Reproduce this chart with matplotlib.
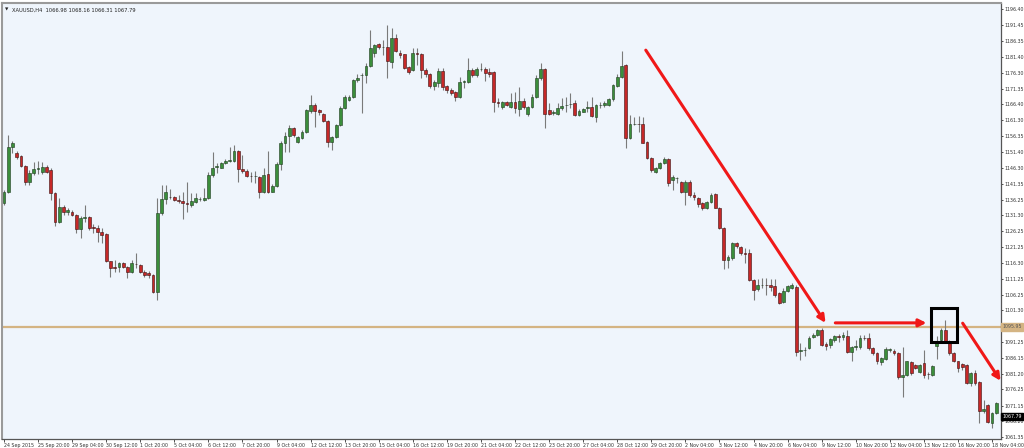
import matplotlib
matplotlib.use("Agg")
import matplotlib.pyplot as plt
from matplotlib.patches import Rectangle
from matplotlib import font_manager
import numpy as np

# ---- data (H4 candles, XAUUSD) ----
opens = [1135.1,1138.8,1153.0,1151.1,1150.0,1147.0,1141.9,1144.6,1145.8,1145.1,
         1146.7,1145.6,1138.3,1129.3,1134.0,1132.3,1132.5,1131.4,1126.9,1130.6,
         1130.8,1127.7,1127.2,1126.1,1125.3,1116.7,1114.9,1114.9,1116.1,1114.9,
         1113.3,1116.0,1115.6,1113.5,1113.0,1112.5,1107.2,1131.9,1136.4,1137.2,
         1137.2,1136.0,1135.9,1135.1,1134.6,1135.6,1136.4,1136.2,1136.7,1144.0,
         1146.6,1146.4,1147.7,1148.6,1148.6,1151.6,1145.9,1145.3,1143.8,1143.7,
         1143.4,1138.8,1144.2,1138.8,1140.7,1147.4,1154.1,1156.4,1158.8,1154.6,
         1155.8,1157.7,1164.3,1166.2,1164.5,1163.2,1161.1,1154.6,1156.2,1159.8,
         1165.3,1167.7,1168.8,1174.1,1175.6,1175.6,1178.5,1182.5,1185.3,1184.4,
         1184.4,1179.9,1187.4,1182.7,1182.2,1178.3,1177.2,1182.5,1182.3,1177.2,
         1175.9,1172.3,1173.0,1176.9,1172.3,1170.9,1170.2,1168.8,1173.5,1173.5,
         1177.2,1175.6,1177.5,1177.5,1176.5,1176.5,1167.0,1165.4,1167.0,1165.4,
         1167.0,1164.9,1167.4,1163.2,1165.6,1168.8,1174.8,1177.4,1164.6,1163.7,
         1163.2,1165.1,1166.1,1166.4,1166.7,1163.0,1164.1,1165.3,1165.6,1162.5,
         1166.2,1166.2,1166.2,1168.0,1172.3,1175.1,1178.8,1155.8,1160.1,1160.2,
         1160.1,1154.6,1149.5,1145.1,1146.2,1147.7,1149.0,1142.5,1143.0,1141.9,
         1138.8,1141.9,1137.7,1136.7,1135.1,1133.5,1135.4,1138.0,1133.7,1127.2,
         1117.2,1117.7,1122.5,1121.4,1119.3,1119.3,1110.9,1107.9,1109.3,1109.4,
         1109.3,1108.8,1106.7,1104.0,1107.5,1108.2,1108.6,1088.5,1088.7,1089.3,
         1092.7,1093.5,1094.9,1090.5,1090.3,1091.9,1093.0,1092.8,1093.3,1088.2,
         1089.8,1089.6,1092.6,1092.4,1089.3,1087.7,1084.8,1085.8,1088.8,1088.5,
         1087.7,1080.1,1080.9,1084.8,1084.0,1081.9,1084.5,1081.1,1080.9,1090.0,
         1091.9,1094.9,1091.6,1087.7,1085.1,1084.3,1084.0,1078.2,1081.6,1078.7,
         1069.3,1071.4,1065.8,1068.7]
highs = [1139.3,1156.7,1154.8,1151.6,1150.3,1147.3,1145.6,1148.3,1148.6,1148.3,
         1147.2,1146.4,1138.6,1136.9,1134.6,1133.5,1133.0,1131.8,1131.0,1134.6,
         1131.2,1128.5,1128.2,1127.2,1125.6,1117.0,1117.2,1116.5,1116.4,1115.2,
         1117.2,1119.3,1116.0,1114.0,1113.7,1112.8,1136.9,1140.9,1140.9,1139.6,
         1137.5,1137.7,1138.8,1141.9,1138.3,1138.3,1137.2,1139.8,1145.1,1151.4,
         1147.7,1148.3,1149.0,1153.0,1153.5,1152.0,1150.4,1145.9,1145.1,1145.3,
         1143.8,1146.4,1151.6,1141.1,1148.3,1154.8,1157.7,1159.8,1159.3,1156.4,
         1158.3,1165.0,1169.3,1166.7,1164.9,1163.6,1161.4,1156.5,1160.2,1165.7,
         1169.2,1169.2,1174.5,1175.9,1176.2,1179.3,1189.9,1185.5,1185.7,1186.7,
         1191.4,1190.4,1188.5,1183.5,1182.4,1178.6,1184.1,1184.1,1182.7,1178.0,
         1176.2,1174.1,1177.7,1177.7,1172.6,1171.6,1170.5,1175.1,1174.1,1180.9,
         1178.0,1178.3,1179.3,1178.3,1177.7,1176.8,1168.3,1167.3,1167.3,1169.9,
         1170.2,1172.0,1168.3,1166.0,1169.5,1175.6,1179.3,1177.8,1166.7,1164.6,
         1166.7,1168.3,1168.8,1169.9,1167.7,1164.8,1165.1,1167.4,1168.8,1166.6,
         1167.0,1167.4,1168.3,1172.8,1175.9,1183.2,1179.2,1163.0,1162.5,1162.8,
         1162.5,1154.9,1149.8,1146.7,1148.2,1149.8,1149.3,1144.0,1143.5,1142.3,
         1142.5,1142.5,1138.8,1137.2,1135.4,1135.8,1138.3,1138.5,1134.0,1127.5,
         1118.8,1123.0,1123.0,1121.7,1120.9,1120.6,1111.1,1111.1,1111.4,1111.4,
         1111.1,1111.1,1107.0,1108.2,1109.3,1109.8,1109.3,1090.9,1089.8,1093.0,
         1094.0,1095.3,1095.6,1091.4,1092.5,1093.5,1093.7,1094.5,1095.1,1090.1,
         1091.9,1093.5,1093.5,1094.0,1089.6,1088.0,1086.5,1089.6,1089.3,1089.0,
         1088.0,1089.6,1085.4,1085.1,1084.3,1084.3,1088.8,1081.9,1084.0,1093.0,
         1095.6,1098.2,1092.0,1088.0,1085.4,1084.5,1084.3,1081.9,1082.4,1079.0,
         1073.0,1071.7,1069.0,1072.4]
lows = [1134.6,1138.3,1150.9,1149.1,1146.6,1140.9,1140.9,1144.0,1144.3,1144.3,
        1144.6,1136.1,1127.9,1128.9,1131.4,1131.4,1131.0,1125.6,1124.2,1129.3,
        1126.7,1125.6,1123.0,1122.5,1116.4,1111.9,1113.5,1113.5,1114.5,1111.4,
        1113.0,1114.6,1113.0,1111.7,1111.4,1106.8,1104.6,1131.4,1134.8,1136.5,
        1135.8,1135.1,1130.1,1132.5,1134.0,1135.1,1135.8,1135.8,1136.4,1143.5,
        1144.6,1146.2,1147.4,1148.3,1148.3,1141.9,1144.6,1143.5,1141.9,1141.4,
        1136.9,1138.3,1138.5,1138.6,1140.4,1145.6,1151.4,1151.4,1156.2,1154.1,
        1155.4,1157.2,1163.5,1159.3,1163.0,1160.8,1153.0,1152.0,1155.8,1159.4,
        1165.0,1167.4,1168.4,1173.5,1163.5,1173.0,1178.3,1181.4,1184.0,1182.0,
        1174.6,1177.7,1183.0,1180.9,1177.6,1175.9,1176.8,1178.8,1174.6,1175.1,
        1171.6,1170.9,1172.0,1170.9,1169.9,1169.3,1167.4,1168.4,1171.6,1173.0,
        1175.1,1175.1,1176.9,1173.7,1175.1,1163.9,1165.6,1164.9,1165.8,1165.1,
        1163.5,1162.8,1164.9,1162.8,1165.1,1168.3,1174.1,1159.0,1163.0,1163.0,
        1163.0,1164.6,1164.1,1165.1,1162.8,1162.7,1163.8,1164.1,1162.5,1160.9,
        1165.3,1165.6,1165.9,1167.4,1172.0,1174.6,1152.5,1155.4,1159.8,1157.5,
        1154.0,1149.2,1145.1,1144.6,1145.9,1147.4,1140.7,1139.3,1141.4,1138.4,
        1134.6,1137.2,1136.1,1134.0,1133.0,1133.2,1135.1,1133.5,1126.9,1114.2,
        1114.6,1117.2,1120.9,1118.8,1116.3,1110.6,1104.6,1107.5,1108.2,1106.1,
        1107.5,1105.6,1103.2,1103.7,1107.2,1107.9,1086.7,1085.6,1086.9,1089.0,
        1092.4,1093.2,1090.0,1088.7,1089.3,1091.4,1091.4,1091.9,1087.7,1085.1,
        1088.7,1089.0,1091.9,1088.7,1087.2,1084.3,1084.0,1085.5,1088.2,1087.2,
        1079.5,1074.0,1080.6,1080.9,1082.6,1081.6,1079.8,1079.5,1080.6,1086.0,
        1091.6,1090.9,1087.2,1084.8,1081.9,1082.4,1077.9,1077.2,1077.7,1065.6,
        1068.9,1065.6,1064.0,1068.4]
closes = [1138.8,1153.0,1154.3,1149.8,1147.0,1141.9,1144.6,1145.8,1146.2,1146.7,
          1145.1,1138.3,1129.3,1134.0,1132.5,1132.9,1131.4,1126.9,1130.6,1130.8,
          1127.2,1127.2,1125.9,1125.1,1116.7,1114.8,1114.8,1116.1,1114.9,1113.3,
          1116.1,1115.8,1113.5,1112.5,1112.5,1107.2,1131.9,1136.4,1138.8,1137.0,
          1136.1,1135.9,1135.1,1134.8,1135.8,1136.9,1136.5,1136.9,1144.0,1146.4,
          1146.8,1147.7,1148.6,1148.7,1151.6,1145.9,1145.3,1143.8,1143.7,1143.8,
          1138.8,1144.0,1138.8,1140.7,1147.4,1154.1,1156.4,1158.8,1156.7,1155.9,
          1157.7,1164.6,1166.2,1164.3,1163.8,1161.1,1154.6,1156.2,1159.8,1165.3,
          1168.8,1168.8,1174.1,1174.8,1175.8,1178.5,1184.3,1185.1,1184.4,1184.5,
          1180.2,1187.2,1183.2,1182.0,1178.0,1176.7,1182.7,1182.4,1177.2,1175.9,
          1172.3,1173.3,1176.9,1172.0,1170.9,1169.9,1168.8,1173.5,1173.6,1177.2,
          1175.6,1177.5,1177.6,1176.2,1176.1,1167.0,1166.9,1167.0,1166.2,1167.0,
          1165.1,1167.4,1165.6,1165.6,1168.8,1174.8,1177.5,1163.2,1163.2,1163.8,
          1165.3,1165.8,1166.2,1166.5,1163.0,1164.4,1164.8,1165.4,1162.8,1166.2,
          1166.3,1166.9,1168.0,1172.5,1175.1,1178.6,1155.8,1160.1,1160.2,1160.1,
          1154.3,1149.5,1145.6,1146.4,1147.9,1149.1,1141.4,1143.3,1143.1,1138.8,
          1141.9,1137.7,1137.2,1134.9,1133.5,1135.4,1137.7,1133.7,1127.2,1117.2,
          1118.0,1122.5,1121.6,1119.3,1119.2,1110.9,1107.7,1109.3,1109.4,1109.3,
          1108.6,1106.1,1103.5,1107.5,1109.0,1109.3,1088.2,1088.6,1088.8,1092.6,
          1093.5,1094.9,1090.3,1090.0,1092.1,1093.2,1092.9,1093.5,1088.2,1089.8,
          1089.9,1092.6,1092.5,1089.3,1087.7,1085.1,1086.1,1089.0,1088.9,1087.7,
          1080.1,1080.9,1085.1,1081.4,1083.0,1084.0,1080.9,1081.0,1083.7,1091.5,
          1095.1,1091.4,1087.7,1085.1,1083.0,1083.5,1078.2,1081.6,1078.2,1069.3,
          1070.0,1066.1,1068.7,1071.9]

x_labels = ["24 Sep 2015", "25 Sep 20:00", "29 Sep 04:00", "30 Sep 12:00", "1 Oct 20:00",
            "5 Oct 04:00", "6 Oct 12:00", "7 Oct 20:00", "9 Oct 04:00", "12 Oct 12:00",
            "13 Oct 20:00", "15 Oct 04:00", "16 Oct 12:00", "19 Oct 20:00", "21 Oct 04:00",
            "22 Oct 12:00", "23 Oct 20:00", "27 Oct 04:00", "28 Oct 12:00", "29 Oct 20:00",
            "2 Nov 04:00", "3 Nov 12:00", "4 Nov 20:00", "6 Nov 04:00", "9 Nov 12:00",
            "10 Nov 20:00", "12 Nov 04:00", "13 Nov 12:00", "16 Nov 20:00", "18 Nov 04:00"]
label_step = 8

y_ticks = [1196.40, 1191.45, 1186.35, 1181.40, 1176.30, 1171.35, 1166.40, 1161.30,
           1156.35, 1151.40, 1146.30, 1141.35, 1136.25, 1131.30, 1126.25, 1121.25,
           1116.30, 1111.25, 1106.25, 1101.30, 1091.25, 1086.15, 1081.20, 1076.25,
           1071.15, 1066.20, 1061.35]

level_price = 1096.0
level_text = "1095.95"
last_price = 1067.79
last_text = "1067.79"
header = "XAUUSD,H4  1066.98 1068.16 1066.31 1067.79"

# annotation arrows (bar index, price)
arrows = [((150.7, 1183.5), (192.9, 1097.3)),
          ((195.2, 1097.3), (216.6, 1097.3)),
          ((225.1, 1097.2), (234.0, 1079.0))]
box = (217.6, 1091.4, 223.7, 1102.1)  # x0, y0, x1, y1

# ---- font ----
names = {f.name for f in font_manager.fontManager.ttflist}
if "Liberation Sans Narrow" in names:
    small_font = ["Liberation Sans Narrow", "DejaVu Sans"]
    fs = 4.15
else:
    small_font = ["DejaVu Sans Condensed", "DejaVu Sans"]
    fs = 3.4
plt.rcParams["font.family"] = small_font

# ---- figure ----
W, H = 1024, 448
fig = plt.figure(figsize=(W / 100, H / 100), dpi=100)
fig.patch.set_facecolor("white")
ax = fig.add_axes([2 / W, 9 / H, 999 / W, 436 / H])
ax.set_facecolor("#EFF5FC")

o = np.array(opens); h = np.array(highs); l = np.array(lows); c = np.array(closes)
idx = np.arange(len(o))
up = c >= o
green = "#3B8E3B"
red = "#C62828"
ax.vlines(idx, l, h, color="#7A7A7A", lw=0.8, zorder=2)
bottoms = np.minimum(o, c)
heights = np.maximum(np.abs(c - o), 0.12)
ax.bar(idx[up], heights[up], bottom=bottoms[up], width=0.66, color=green,
       edgecolor="#1E3A1E", linewidth=0.4, zorder=3)
ax.bar(idx[~up], heights[~up], bottom=bottoms[~up], width=0.66, color=red,
       edgecolor="#3A1010", linewidth=0.4, zorder=3)

# level line
ax.axhline(level_price, color="#D4B483", lw=1.6, zorder=1)

ax.set_xlim(-0.45, 234.1)
ax.set_ylim(1060.6, 1198.4)

# x ticks
xt = [i * label_step for i in range(len(x_labels))]
ax.set_xticks(xt)
ax.set_xticklabels(x_labels)
for t in ax.get_xticklabels():
    t.set_ha("left")
ax.tick_params(axis="x", length=2.5, pad=0.3, labelsize=fs, colors="#333333", width=0.6)

# y ticks on right
ax.yaxis.tick_right()
ax.set_yticks(y_ticks)
ax.set_yticklabels([f"{v:.2f}" for v in y_ticks])
ax.tick_params(axis="y", length=1.5, pad=0.8, labelsize=fs, colors="#333333", width=0.6)

for s in ["left", "top"]:
    ax.spines[s].set_color("#9A9A9A")
    ax.spines[s].set_linewidth(1.5)
for s in ["right", "bottom"]:
    ax.spines[s].set_color("#555555")
    ax.spines[s].set_linewidth(0.9)

# price labels on axis
ax.text(1.0015, level_price, level_text, transform=ax.get_yaxis_transform(),
        fontsize=fs, va="center", ha="left", color="#555555",
        bbox=dict(boxstyle="square,pad=0.22", fc="#D4B483", ec="#D4B483"), clip_on=False)
ax.text(1.0015, last_price, last_text, transform=ax.get_yaxis_transform(),
        fontsize=fs, va="center", ha="left", color="white",
        bbox=dict(boxstyle="square,pad=0.22", fc="black", ec="black"), clip_on=False)

# header
ax.text(0.003, 0.99, "\u25BC", transform=ax.transAxes, fontsize=3.2, va="top",
        ha="left", color="#222222", family="DejaVu Sans")
ax.text(0.010, 0.99, header, transform=ax.transAxes, fontsize=fs + 0.3, va="top",
        ha="left", color="#222222")

# arrows and box
for (s, e) in arrows:
    ax.annotate("", xy=e, xytext=s,
                arrowprops=dict(arrowstyle="-|>", color="#F01818", lw=2.2,
                                mutation_scale=11, shrinkA=0, shrinkB=0),
                zorder=5, annotation_clip=False)
x0, y0, x1, y1 = box
ax.add_patch(Rectangle((x0, y0), x1 - x0, y1 - y0, fill=False, ec="black",
                       lw=2.2, zorder=6))

fig.savefig("out.png", dpi=100, facecolor=fig.get_facecolor())
